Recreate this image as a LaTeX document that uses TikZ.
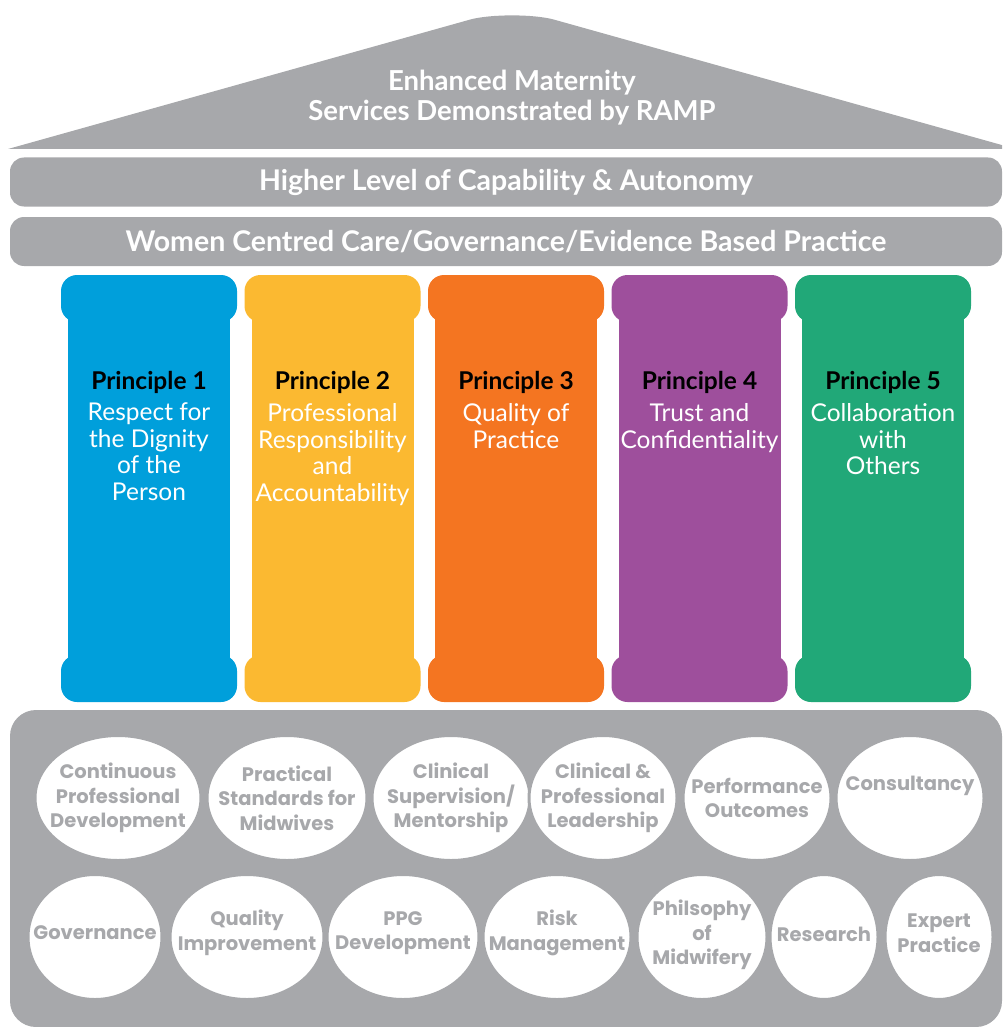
\documentclass[tikz,border=0pt]{standalone}
\usepackage{fontspec}
\setmainfont{Lato}
\newfontfamily\ovalfont{Poppins}
\usepackage{xcolor}
\usetikzlibrary{shapes.geometric}

\definecolor{housegray}{HTML}{A7A8AB}
\definecolor{pblue}{HTML}{009FDB}
\definecolor{pyellow}{HTML}{FBB931}
\definecolor{porange}{HTML}{F47521}
\definecolor{ppurple}{HTML}{9E4F9C}
\definecolor{pgreen}{HTML}{21A878}

\begin{document}
\begin{tikzpicture}[x=1pt,y=-1pt]
                \tikzset{Band/.style={%
                    shape=rectangle,%
                    fill=housegray,%
                    rounded corners=14pt,%
                    minimum width=992pt,%
                    minimum height=49pt,%
                    text=white,%
                    font=\fontsize{28.5}{33}\selectfont\bfseries,%
                },
                Cap/.style={%
                    shape=rectangle,%
                    rounded corners=16pt,%
                    minimum width=176pt,%
                    minimum height=47pt,%
                    inner sep=0pt,%
                },
                Shaft/.style={%
                    shape=rectangle,%
                    minimum width=162pt,%
                    minimum height=380pt,%
                    inner sep=0pt,%
                },
                PText/.style={%
                    anchor=north,%
                    align=center,%
                    text=white,%
                    inner sep=0pt,%
                    font=\fontsize{24.5}{26.8}\selectfont,%
                },
                Oval/.style={%
                    shape=ellipse,%
                    fill=white,%
                    draw=housegray,%
                    line width=3pt,%
                    inner sep=0pt,%
                    minimum height=125pt,%
                },
                OvalText/.style={%
                    align=center,%
                    text=housegray,%
                    inner sep=0pt,%
                    font=\ovalfont\fontsize{19.5}{24.5}\selectfont\bfseries,%
                }}

                \useasboundingbox (0,0) rectangle (1002,1027);
                \clip (0,0) rectangle (1002,1027);

                % roof
                \fill[housegray] (8,149) -- (470,19.6) .. controls (490,14) and (534,14) .. (554,19.6)
                    -- (1016,149) -- cycle;
                \node[text=white, align=center, font=\fontsize{27.5}{30}\selectfont\bfseries]
                    (roof) at (512,98) {Enhanced Maternity\\Services Demonstrated by RAMP};

                \node[Band] (capability) at (506,182) {Higher Level of Capability \& Autonomy};
                \node[Band] (care) at (506,241.5) {Women Centred Care/Governance/Evidence Based Practice};

                % pillars
                \node[Shaft, fill=pblue] (s1) at (149,490) {};
                \node[Cap, fill=pblue] (t1) at (149,298.5) {};
                \node[Cap, fill=pblue] (b1) at (149,678.5) {};
                \node[PText] (p1) at (149,371) {{\color{black}\bfseries Principle 1}\\[4pt]Respect for\\the Dignity\\of the\\Person};

                \node[Shaft, fill=pyellow] (s2) at (332.5,490) {};
                \node[Cap, fill=pyellow] (t2) at (332.5,298.5) {};
                \node[Cap, fill=pyellow] (b2) at (332.5,678.5) {};
                \node[PText] (p2) at (332.5,371) {{\color{black}\bfseries Principle 2}\\[5pt]Professional\\Responsibility\\and\\Accountability};

                \node[Shaft, fill=porange] (s3) at (516,490) {};
                \node[Cap, fill=porange] (t3) at (516,298.5) {};
                \node[Cap, fill=porange] (b3) at (516,678.5) {};
                \node[PText] (p3) at (516,371) {{\color{black}\bfseries Principle 3}\\[5pt]Quality of\\Practice};

                \node[Shaft, fill=ppurple] (s4) at (699.5,490) {};
                \node[Cap, fill=ppurple] (t4) at (699.5,298.5) {};
                \node[Cap, fill=ppurple] (b4) at (699.5,678.5) {};
                \node[PText] (p4) at (699.5,371) {{\color{black}\bfseries Principle 4}\\[5pt]Trust and\\Confidentiality};

                \node[Shaft, fill=pgreen] (s5) at (883,490) {};
                \node[Cap, fill=pgreen] (t5) at (883,298.5) {};
                \node[Cap, fill=pgreen] (b5) at (883,678.5) {};
                \node[PText] (p5) at (883,371) {{\color{black}\bfseries Principle 5}\\[5pt]Collaboration\\with\\Others};

                % foundation
                \fill[housegray, rounded corners=26pt] (10,710) rectangle (1002,1027);

                \node[Oval, minimum width=166pt] (cpd) at (118,798) {};
                \node[Oval, minimum width=160pt] (standards) at (287,798) {};
                \node[Oval, minimum width=158pt] (supervision) at (451,798) {};
                \node[Oval, minimum width=148pt] (leadership) at (603,798) {};
                \node[Oval, minimum width=148pt] (outcomes) at (757,798) {};
                \node[Oval, minimum width=148pt] (consultancy) at (910,798) {};

                \node[Oval, minimum width=134pt] (governance) at (95,937) {};
                \node[Oval, minimum width=154pt] (quality) at (247,937) {};
                \node[Oval, minimum width=152pt] (ppg) at (403,937) {};
                \node[Oval, minimum width=148pt] (risk) at (557,937) {};
                \node[Oval, minimum width=130pt] (philosophy) at (702,937) {};
                \node[Oval, minimum width=108pt] (research) at (824,937) {};
                \node[Oval, minimum width=108pt] (expert) at (939,937) {};

                \node[OvalText] (cpd-t) at (cpd) {Continuous\\Professional\\Development};
                \node[OvalText] (standards-t) at (standards) {Practical\\Standards for\\Midwives};
                \node[OvalText] (supervision-t) at (supervision) {Clinical\\Supervision/\\Mentorship};
                \node[OvalText] (leadership-t) at (leadership) {Clinical \&\\Professional\\Leadership};
                \node[OvalText] (outcomes-t) at (outcomes) {Performance\\Outcomes};
                \node[OvalText] (consultancy-t) at ([yshift=12pt]consultancy.center) {Consultancy};

                \node[OvalText] (governance-t) at ([yshift=4pt]governance.center) {Governance};
                \node[OvalText] (quality-t) at ([yshift=4pt]quality.center) {Quality\\Improvement};
                \node[OvalText] (ppg-t) at ([yshift=4pt]ppg.center) {PPG\\Development};
                \node[OvalText] (risk-t) at ([yshift=4pt]risk.center) {Risk\\Management};
                \node[OvalText] (philosophy-t) at ([yshift=2pt]philosophy.center) {Philsophy\\of\\Midwifery};
                \node[OvalText] (research-t) at ([yshift=3pt]research.center) {Research};
                \node[OvalText] (expert-t) at ([yshift=4pt]expert.center) {Expert\\Practice};
            \end{tikzpicture}
\end{document}
